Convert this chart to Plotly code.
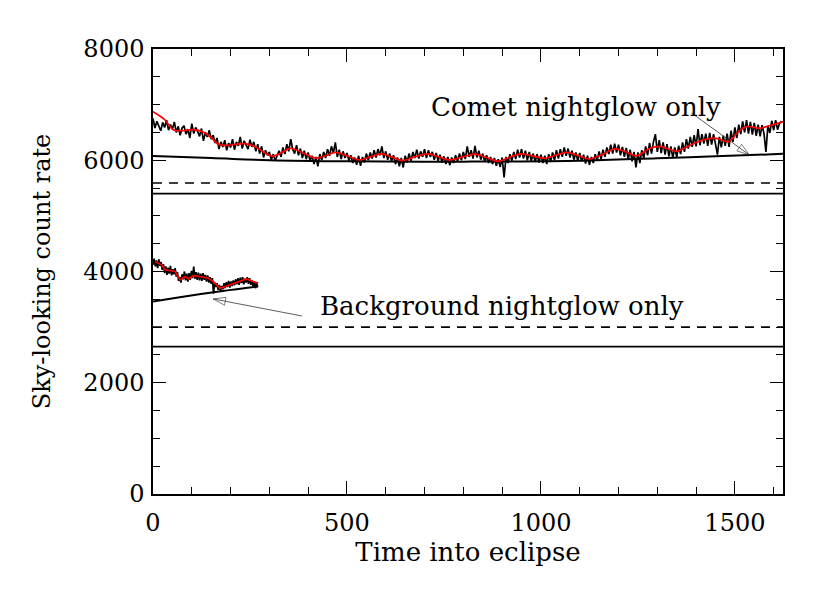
import plotly.graph_objects as go

# ---- data ----
# comet period: black raw counts, every 5 s
t_comet = list(range(0, 1621, 5))
counts_comet = [
    # 0-95
    6750, 6580, 6700, 6620, 6530, 6680, 6590, 6720, 6540, 6640,
    6560, 6690, 6500, 6610, 6450, 6580, 6620, 6470, 6560, 6400,
    # 100-195
    6660, 6480, 6590, 6520, 6430, 6570, 6350, 6500, 6420, 6540,
    6380, 6450, 6310, 6400, 6200, 6330, 6240, 6360, 6180, 6310,
    # 200-295
    6230, 6380, 6190, 6330, 6260, 6420, 6210, 6350, 6280, 6200,
    6370, 6240, 6330, 6160, 6290, 6120, 6250, 6050, 6180, 6090,
    # 300-395
    6150, 6010, 6110, 5990, 6080, 6170, 6060, 6230, 6110, 6290,
    6160, 6380, 6200, 6120, 6270, 6090, 6210, 6040, 6170, 6020,
    # 400-495
    6140, 5990, 6080, 5930, 6060, 5890, 6110, 6000, 6150, 6040,
    6200, 6080, 6250, 6130, 6320, 6060, 6190, 6020, 6160, 6040,
    # 500-595
    6130, 5990, 6090, 5950, 6050, 5920, 6080, 5900, 6060, 5960,
    6120, 6000, 6140, 6030, 6180, 6050, 6200, 6090, 6250, 6040,
    # 600-695
    6160, 6010, 6120, 5980, 6090, 5930, 6050, 5890, 6040, 5870,
    6080, 5960, 6120, 5990, 6150, 6040, 6190, 6030, 6160, 6060,
    # 700-795
    6200, 6040, 6180, 6060, 6150, 6010, 6130, 5990, 6100, 5960,
    6070, 5930, 6060, 5910, 6050, 5950, 6090, 5980, 6120, 6000,
    # 800-895
    6150, 6020, 6250, 6060, 6180, 6030, 6260, 6050, 6170, 6010,
    6120, 5970, 6090, 5950, 6060, 5930, 6040, 5900, 6020, 5880,
    # 900-995
    6050, 5690, 6060, 5950, 6110, 5990, 6150, 6020, 6190, 6050,
    6200, 6030, 6170, 6000, 6150, 5990, 6120, 5970, 6110, 5960,
    # 1000-1095
    6100, 5950, 6080, 5930, 6110, 5970, 6140, 6000, 6180, 6030,
    6200, 6060, 6230, 6080, 6210, 6050, 6170, 6010, 6140, 5990,
    # 1100-1195
    6130, 5980, 6100, 5940, 6080, 5920, 6060, 5950, 6110, 5990,
    6160, 6020, 6190, 6060, 6230, 6110, 6280, 6120, 6300, 6140,
    # 1200-1295
    6280, 6090, 6240, 6060, 6220, 6010, 6190, 5980, 6150, 5870,
    6140, 5950, 6180, 6040, 6250, 6090, 6310, 6120, 6330, 6470,
    # 1300-1395
    6150, 6360, 6130, 6320, 6100, 6290, 6070, 6250, 6040, 6230,
    6060, 6260, 6110, 6320, 6150, 6380, 6210, 6420, 6240, 6450,
    # 1400-1495
    6250, 6560, 6270, 6470, 6300, 6480, 6260, 6490, 6280, 6470,
    6290, 6100, 6420, 6230, 6440, 6260, 6480, 6240, 6530, 6330,
    # 1500-1620
    6590, 6400, 6640, 6470, 6700, 6500, 6720, 6480, 6690, 6460,
    6670, 6440, 6640, 6430, 6630, 6480, 6150, 6620, 6490, 6710,
    6540, 6720, 6550, 6660, 6700,
]

# comet period: red smoothed curve
t_comet_smooth = [0, 30, 52, 74, 104, 130, 151, 168, 190, 216, 241, 267, 289, 308,
                  330, 353, 385, 418, 445, 469, 500, 533, 560, 589, 615, 643, 675,
                  709, 737, 765, 798, 830, 860, 890, 918, 946, 978, 1010, 1038, 1066,
                  1096, 1126, 1160, 1191, 1220, 1247, 1281, 1307, 1330, 1350, 1385,
                  1418, 1452, 1483, 1509, 1530, 1564, 1581, 1603, 1624]
smooth_comet = [6870, 6730, 6550, 6530, 6550, 6505, 6400, 6290, 6265, 6290, 6295, 6230,
                6130, 6075, 6130, 6215, 6140, 6040, 6080, 6140, 6080, 6005, 6060, 6115,
                6060, 5995, 6060, 6115, 6060, 6005, 6060, 6110, 6050, 5980, 6050, 6115,
                6080, 6035, 6090, 6140, 6085, 6025, 6110, 6205, 6150, 6080, 6215, 6250,
                6200, 6160, 6270, 6365, 6395, 6335, 6515, 6605, 6575, 6605, 6650, 6690]

# comet period: fitted nightglow
t_comet_fit = [0, 150, 300, 500, 800, 1100, 1300, 1450, 1624]
fit_comet = [6075, 6040, 6000, 5980, 5975, 5990, 6035, 6070, 6115]

# background period: black raw counts, every 3 s
t_bkg = list(range(0, 271, 3))
counts_bkg = [
    4120, 4230, 4090, 4200, 4060, 4220, 4100, 4170, 4030, 4130,
    3970, 4090, 3940, 4070, 3960, 4100, 3930, 4040, 3950, 4060,
    3910, 3990, 3830, 3900, 3800, 3950, 3860, 4000, 3840, 3960,
    3820, 3970, 3850, 4010, 3880, 4090, 3870, 3990, 3850, 3980,
    3840, 3960, 3830, 3970, 3850, 3940, 3820, 3930, 3800, 3900,
    3780, 3880, 3600, 3800, 3720, 3790, 3670, 3760, 3650, 3740,
    3680, 3790, 3700, 3810, 3720, 3830, 3710, 3820, 3740, 3840,
    3750, 3860, 3770, 3880, 3760, 3890, 3790, 3900, 3770, 3870,
    3800, 3900, 3780, 3880, 3760, 3840, 3720, 3820, 3700, 3790,
    3730,
]

# background period: red smoothed curve
t_bkg_smooth = [5, 22, 31, 44, 57, 70, 82, 91, 104, 121, 143, 155, 173, 186, 203, 220,
                241, 254, 271]
smooth_bkg = [4180, 4120, 4030, 4010, 4000, 3850, 3910, 3870, 3925, 3910, 3880, 3820,
              3700, 3730, 3770, 3820, 3865, 3830, 3790]

# background period: fitted nightglow
t_bkg_fit = [0, 90, 180, 271]
fit_bkg = [3460, 3560, 3650, 3730]

# reference levels across the whole eclipse
x_span = [0, 1624]
solid_levels = [5400, 2650]
dashed_levels = [5590, 3000]

# arrows: (tail t, tail y, head t, head y)
arrow_comet = (1388, 6850, 1537, 6097)
arrow_bkg = (384, 3200, 155, 3507)

FONT = "DejaVu Serif"

fig = go.Figure()

for lvl in solid_levels:
    fig.add_trace(go.Scatter(x=x_span, y=[lvl, lvl], mode="lines",
                             line=dict(color="black", width=1.6)))
for lvl in dashed_levels:
    fig.add_trace(go.Scatter(x=x_span, y=[lvl, lvl], mode="lines",
                             line=dict(color="black", width=1.6, dash="9px,7px")))

# raw counts
fig.add_trace(go.Scatter(x=t_comet, y=counts_comet, mode="lines",
                         line=dict(color="black", width=1.7)))
fig.add_trace(go.Scatter(x=t_bkg, y=counts_bkg, mode="lines",
                         line=dict(color="black", width=1.7)))

# fits
fig.add_trace(go.Scatter(x=t_comet_fit, y=fit_comet, mode="lines", line_shape="spline",
                         line=dict(color="black", width=2)))
fig.add_trace(go.Scatter(x=t_bkg_fit, y=fit_bkg, mode="lines", line_shape="spline",
                         line=dict(color="black", width=2)))

# smoothed
fig.add_trace(go.Scatter(x=t_comet_smooth, y=smooth_comet, mode="lines", line_shape="spline",
                         line=dict(color="red", width=1.7)))
fig.add_trace(go.Scatter(x=t_bkg_smooth, y=smooth_bkg, mode="lines",
                         line=dict(color="red", width=1.7)))

# open-headed arrows
for tx, ty, hx, hy in [arrow_comet, arrow_bkg]:
    fig.add_trace(go.Scatter(
        x=[tx, hx], y=[ty, hy], mode="lines+markers",
        line=dict(color="#333333", width=0.8),
        marker=dict(symbol=["circle", "arrow-open"], size=[0, 13],
                    angleref="previous", color="#333333",
                    line=dict(color="#333333", width=0.9)),
    ))

fig.add_annotation(x=1090, y=6960, text="Comet nightglow only", showarrow=False,
                   font=dict(family=FONT, size=26, color="black"))
fig.add_annotation(x=899, y=3381, text="Background nightglow only", showarrow=False,
                   font=dict(family=FONT, size=26, color="black"))

axis_common = dict(
    showgrid=False, zeroline=False, showline=True, linecolor="black", linewidth=1.5,
    mirror="ticks", ticks="inside", tickcolor="black", tickwidth=1.2,
    tickfont=dict(family=FONT, size=24, color="black"),
)

fig.update_xaxes(
    range=[0, 1624], tickvals=[0, 500, 1000, 1500], ticklen=13,
    minor=dict(dtick=100, tick0=0, ticks="inside", ticklen=7, tickcolor="black", tickwidth=1),
    title=dict(text="Time into eclipse", font=dict(family=FONT, size=26, color="black"),
               standoff=2),
    ticklabelstandoff=6,
    **axis_common,
)
fig.update_yaxes(
    range=[0, 8000], tickvals=[0, 2000, 4000, 6000, 8000], ticklen=13,
    minor=dict(dtick=500, tick0=0, ticks="inside", ticklen=7, tickcolor="black", tickwidth=1),
    title=dict(text="Sky-looking count rate", font=dict(family=FONT, size=24, color="black"),
               standoff=26),
    ticklabelstandoff=2,
    **axis_common,
)

fig.update_layout(
    width=830, height=593,
    margin=dict(l=145, r=55, t=41, b=107),
    plot_bgcolor="white", paper_bgcolor="white",
    showlegend=False,
    font=dict(family=FONT, color="black"),
)

fig.write_html("out.html")
